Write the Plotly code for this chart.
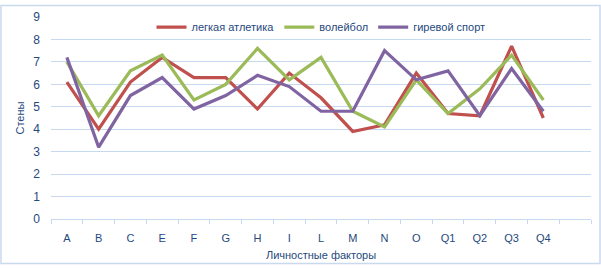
import plotly.graph_objects as go

categories = ["A", "B", "C", "E", "F", "G", "H", "I", "L", "M", "N", "O", "Q1", "Q2", "Q3", "Q4"]
athletics = [6.1, 4.0, 6.1, 7.2, 6.3, 6.3, 4.9, 6.5, 5.4, 3.9, 4.2, 6.5, 4.7, 4.6, 7.7, 4.5]
volleyball = [7.0, 4.6, 6.6, 7.3, 5.3, 6.0, 7.6, 6.2, 7.2, 4.8, 4.1, 6.2, 4.7, 5.8, 7.3, 5.3]
kettlebell = [7.2, 3.2, 5.5, 6.3, 4.9, 5.5, 6.4, 5.9, 4.8, 4.8, 7.5, 6.2, 6.6, 4.6, 6.7, 4.8]
series_names = ["легкая атлетика", "волейбол", "гиревой спорт"]
colors = ["#C0504D", "#9BBB59", "#8064A2"]

x_idx = list(range(len(categories)))
font_color = "#1F497D"
grid_color = "#C6D9F1"
FONT = "Liberation Sans, Arial, sans-serif"

fig = go.Figure()
for name, vals, c in zip(series_names, [athletics, volleyball, kettlebell], colors):
    fig.add_trace(go.Scatter(x=x_idx, y=vals, mode="lines", name=name,
                             line=dict(color=c, width=3.2)))

fig.update_layout(
    width=601, height=270,
    margin=dict(l=51, r=10, t=13, b=48),
    paper_bgcolor="white", plot_bgcolor="white",
    font=dict(family=FONT, size=11, color=font_color),
    showlegend=True,
    legend=dict(orientation="h", x=0.5, xanchor="center", y=0.95, yanchor="middle",
                bgcolor="rgba(0,0,0,0)", font=dict(size=11, color=font_color),
                itemwidth=30, tracegroupgap=0),
    xaxis=dict(
        range=[-0.5, 16.5],
        tickvals=x_idx, ticktext=categories,
        ticks="", showgrid=False, zeroline=False,
        showline=True, linecolor=grid_color, linewidth=1,
        ticklabelstandoff=9,
        tickfont=dict(size=11, color=font_color),
        minor=dict(ticks="outside", tick0=-0.5, dtick=1, ticklen=4, tickcolor=grid_color, showgrid=False),
        title=dict(text="Личностные факторы", font=dict(size=11, color=font_color), standoff=8),
    ),
    yaxis=dict(
        range=[0, 9], dtick=1, tick0=0,
        showgrid=True, gridcolor=grid_color, gridwidth=1,
        zeroline=False, showline=False,
        ticks="", ticklabelstandoff=10,
        tickfont=dict(size=12, color=font_color),
        title=dict(text="Стены", font=dict(size=11, color=font_color), standoff=6),
    ),
)

# outer chart border
fig.add_shape(type="rect", xref="paper", yref="paper",
              x0=(1 - 51) / 540, x1=(600 - 51) / 540,
              y0=(270 - 48 - 268) / 209, y1=(270 - 48 - 1) / 209,
              line=dict(color="#C9D9EE", width=1.5), layer="below")

fig.write_html("out.html",
               config={"displayModeBar": False},
               post_script="document.body.style.margin='0';document.body.style.overflow='hidden';")
